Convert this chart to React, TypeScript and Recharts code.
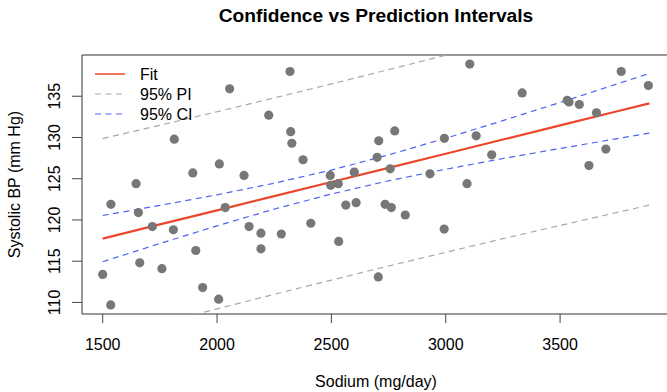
import React from 'react';
import {
  ComposedChart, Scatter, Line, XAxis, YAxis, ReferenceArea, Legend,
} from 'recharts';

// observed points (sodium mg/day, systolic BP mm Hg)
const sodium = [
  1500, 1535, 1536, 1646, 1656, 1662, 1717, 1759, 1809, 1813,
  1894, 1907, 1937, 2007, 2010, 2036, 2055, 2118, 2140, 2192,
  2192, 2226, 2281, 2319, 2322, 2327, 2376, 2410, 2495, 2497,
  2530, 2532, 2563, 2600, 2608, 2700, 2705, 2707, 2735, 2757,
  2762, 2777, 2823, 2931, 2993, 2994, 3093, 3105, 3133, 3201,
  3334, 3531, 3539, 3584, 3626, 3659, 3700, 3767, 3886,
];
const systolic = [
  113.4, 109.7, 121.9, 124.4, 120.9, 114.8, 119.2, 114.1, 118.8, 129.8,
  125.7, 116.3, 111.8, 110.4, 126.8, 121.5, 135.9, 125.4, 119.2, 118.4,
  116.5, 132.7, 118.3, 138.0, 130.7, 129.3, 127.3, 119.6, 125.4, 124.2,
  124.4, 117.4, 121.8, 125.8, 122.1, 127.6, 113.1, 129.6, 121.9, 126.2,
  121.5, 130.8, 120.6, 125.6, 118.9, 129.9, 124.4, 138.9, 130.2, 127.9,
  135.4, 134.5, 134.3, 134.0, 126.6, 133.0, 128.6, 138.0, 136.3,
];

// fitted line and interval bands
const lineX = [1500, 1750, 2000, 2250, 2500, 2750, 3000, 3250, 3500, 3750, 3890];
const fitY = [117.74, 119.46, 121.17, 122.89, 124.6, 126.32, 128.03, 129.75, 131.46, 133.18, 134.14];
const ciUpper = [120.54, 121.77, 123.05, 124.46, 126.05, 127.89, 129.91, 132.05, 134.25, 136.5, 137.76];
const ciLower = [114.94, 117.15, 119.29, 121.32, 123.15, 124.75, 126.15, 127.45, 128.67, 129.86, 130.52];
const piUpper = [129.87, 131.48, 133.12, 134.79, 136.49, 138.22, 139.98, 141.77, 143.58, 145.44, 146.48];
const piLower = [105.61, 107.44, 109.22, 110.99, 112.71, 114.42, 116.08, 117.73, 119.34, 120.92, 121.8];

const xTicks = [1500, 2000, 2500, 3000, 3500];
const yTicks = [110, 115, 120, 125, 130, 135];

const X_DOMAIN: [number, number] = [1409.5, 3980.5];
const Y_DOMAIN: [number, number] = [108.6, 140];

const RED = '#e9482c';
const GRAY = '#a9a9a9';
const BLUE = '#4d63f0';
const DASH = '6 4.5';

const points = sodium.map((x, i) => ({ x, y: systolic[i] }));
const bands = lineX.map((x, i) => ({
  x,
  fit: fitY[i],
  ciUp: ciUpper[i],
  ciLo: ciLower[i],
  piUp: piUpper[i],
  piLo: piLower[i],
}));

// eslint-disable-next-line @typescript-eslint/no-explicit-any
const XTick = (props: any) => {
  const { x, y, payload } = props;
  return (
    <text x={x} y={y + 25} textAnchor="middle" fontSize={16} fill="#000">
      {payload.value}
    </text>
  );
};

// eslint-disable-next-line @typescript-eslint/no-explicit-any
const YTick = (props: any) => {
  const { x, y, payload } = props;
  return (
    <text
      x={0}
      y={0}
      transform={`translate(${x - 10},${y}) rotate(-90)`}
      textAnchor="middle"
      fontSize={16}
      fill="#000"
    >
      {payload.value}
    </text>
  );
};

const LegendBox = () => (
  <svg width={130} height={64}>
    <line x1={7} x2={37} y1={12} y2={12} stroke={RED} strokeWidth={1.5} />
    <line x1={7} x2={37} y1={32} y2={32} stroke={GRAY} strokeWidth={1.2} strokeDasharray={DASH} />
    <line x1={7} x2={37} y1={52} y2={52} stroke={BLUE} strokeWidth={1.2} strokeDasharray={DASH} />
    <text x={52} y={18} fontSize={16} fill="#000">Fit</text>
    <text x={52} y={38} fontSize={16} fill="#000">95% PI</text>
    <text x={52} y={58} fontSize={16} fill="#000">95% CI</text>
  </svg>
);

export default function App() {
  return (
    <div
      style={{
        position: 'absolute',
        left: 0,
        top: 0,
        width: 667,
        height: 392,
        overflow: 'hidden',
        background: '#fff',
        fontFamily: '"Liberation Sans", Arial, sans-serif',
      }}
    >
      <div
        style={{
          position: 'absolute',
          left: 82,
          top: 5,
          width: 588,
          textAlign: 'center',
          fontSize: 19.2,
          fontWeight: 700,
          lineHeight: '22px',
          color: '#000',
        }}
      >
        Confidence vs Prediction Intervals
      </div>
      <ComposedChart
        width={672}
        height={392}
        data={bands}
        margin={{ top: 55, right: 2, bottom: 0, left: 0 }}
      >
        <ReferenceArea
          x1={X_DOMAIN[0]}
          x2={X_DOMAIN[1]}
          y1={Y_DOMAIN[0]}
          y2={Y_DOMAIN[1]}
          fill="none"
          stroke="#333"
          strokeWidth={1}
          fillOpacity={0}
        />
        <XAxis
          type="number"
          dataKey="x"
          domain={X_DOMAIN}
          ticks={xTicks}
          allowDataOverflow
          axisLine={false}
          tickLine={{ stroke: '#444' }}
          tickSize={9}
          tickMargin={2}
          height={78}
          tick={<XTick />}
          label={{
            // eslint-disable-next-line @typescript-eslint/no-explicit-any
            content: (p: any) => {
              const vb = p.viewBox || { x: 82, y: 314, width: 588 };
              return (
                <text x={vb.x + vb.width / 2} y={vb.y + 73} textAnchor="middle" fontSize={16} fill="#000">
                  Sodium (mg/day)
                </text>
              );
            },
          }}
        />
        <YAxis
          type="number"
          domain={Y_DOMAIN}
          ticks={yTicks}
          allowDataOverflow
          axisLine={false}
          tickLine={{ stroke: '#444' }}
          tickSize={10}
          tickMargin={2}
          width={82}
          tick={<YTick />}
          label={{
            // eslint-disable-next-line @typescript-eslint/no-explicit-any
            content: (p: any) => {
              const vb = p.viewBox || { x: 0, y: 55, height: 259 };
              const cy = vb.y + vb.height / 2;
              return (
                <text
                  x={0}
                  y={0}
                  transform={`translate(19.5,${cy}) rotate(-90)`}
                  textAnchor="middle"
                  fontSize={16}
                  fill="#000"
                >
                  Systolic BP (mm Hg)
                </text>
              );
            },
          }}
        />
        <Scatter
          data={points}
          dataKey="y"
          isAnimationActive={false}
          // eslint-disable-next-line @typescript-eslint/no-explicit-any
          shape={(p: any) => <circle cx={p.cx} cy={p.cy} r={4.6} fill="#777777" />}
        />
        <Line dataKey="piUp" stroke={GRAY} strokeWidth={1.2} strokeDasharray={DASH} dot={false} isAnimationActive={false} />
        <Line dataKey="piLo" stroke={GRAY} strokeWidth={1.2} strokeDasharray={DASH} dot={false} isAnimationActive={false} />
        <Line dataKey="ciUp" stroke={BLUE} strokeWidth={1.2} strokeDasharray={DASH} dot={false} isAnimationActive={false} />
        <Line dataKey="ciLo" stroke={BLUE} strokeWidth={1.2} strokeDasharray={DASH} dot={false} isAnimationActive={false} />
        <Line dataKey="fit" stroke={RED} strokeWidth={2.2} dot={false} isAnimationActive={false} />
        <Legend
          layout="horizontal"
          verticalAlign="middle"
          align="center"
          content={<LegendBox />}
          wrapperStyle={{ position: 'absolute', left: 88, top: 62, width: 130, height: 64 }}
        />
      </ComposedChart>
    </div>
  );
}
